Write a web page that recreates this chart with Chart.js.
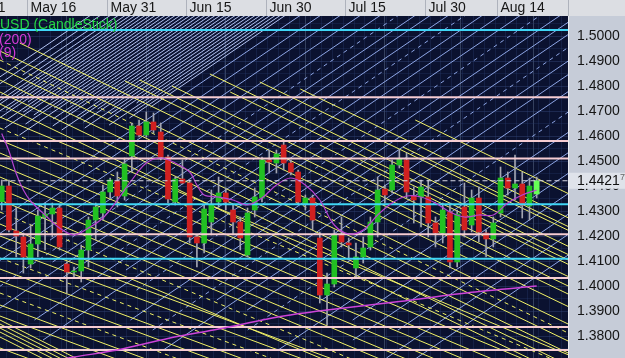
<!DOCTYPE html>
<html>
<head>
<meta charset="utf-8">
<script src="https://cdn.jsdelivr.net/npm/chart.js@4.4.0/dist/chart.umd.min.js"></script>
<style>
html, body { margin: 0; padding: 0; background: #0b1230; }
#wrap { width: 625px; height: 358px; position: relative; }
</style>
</head>
<body>
<div id="wrap"><canvas id="graphic"></canvas></div>
<script>
// trading days, EUR/USD daily, 2011
const days = ('May 10,May 11,May 12,May 13,May 16,May 17,May 18,May 19,May 20,May 23,May 24,May 25,May 26,May 27,May 30,May 31,' +
  'Jun 1,Jun 2,Jun 3,Jun 6,Jun 7,Jun 8,Jun 9,Jun 10,Jun 13,Jun 14,Jun 15,Jun 16,Jun 17,Jun 20,Jun 21,Jun 22,Jun 23,Jun 24,Jun 27,Jun 28,Jun 29,Jun 30,' +
  'Jul 1,Jul 4,Jul 5,Jul 6,Jul 7,Jul 8,Jul 11,Jul 12,Jul 13,Jul 14,Jul 15,Jul 18,Jul 19,Jul 20,Jul 21,Jul 22,Jul 25,Jul 26,Jul 27,Jul 28,Jul 29,' +
  'Aug 1,Aug 2,Aug 3,Aug 4,Aug 5,Aug 8,Aug 9,Aug 10,Aug 11,Aug 12,Aug 15,Aug 16,Aug 17,Aug 18,Aug 19,Aug 22').split(',');

const open = [1.4337,1.4400,1.4220,1.4196,1.4088,1.4168,1.4276,1.4288,1.4312,1.4088,1.4056,1.4060,1.4144,1.4264,1.4292,1.4376,
  1.4420,1.4360,1.4520,1.4640,1.4604,1.4656,1.4616,1.4516,1.4336,1.4428,1.4412,1.4196,1.4172,1.4256,1.4336,1.4372,1.4304,1.4256,1.4124,1.4304,1.4352,1.4504,
  1.4492,1.4564,1.4492,1.4456,1.4328,1.4352,1.4192,1.3964,1.4008,1.4204,1.4172,1.4072,1.4116,1.4156,1.4256,1.4388,1.4384,1.4484,1.4504,1.4360,1.4356,
  1.4356,1.4252,1.4212,1.4296,1.4096,1.4316,1.4244,1.4352,1.4212,1.4188,1.4292,1.4432,1.4392,1.4408,1.4320,1.4368];
const high = [1.4424,1.4424,1.4316,1.4212,1.4244,1.4304,1.4332,1.4332,1.4324,1.4096,1.4076,1.4164,1.4276,1.4332,1.4404,1.4432,
  1.4456,1.4512,1.4652,1.4664,1.4696,1.4692,1.4652,1.4524,1.4436,1.4504,1.4424,1.4204,1.4324,1.4384,1.4436,1.4392,1.4324,1.4276,1.4312,1.4392,1.4516,1.4544,
  1.4544,1.4576,1.4504,1.4464,1.4364,1.4364,1.4216,1.4052,1.4224,1.4276,1.4192,1.4172,1.4196,1.4276,1.4436,1.4404,1.4504,1.4544,1.4532,1.4396,1.4424,
  1.4424,1.4276,1.4332,1.4332,1.4304,1.4412,1.4384,1.4396,1.4224,1.4276,1.4476,1.4456,1.4524,1.4456,1.4432,1.4436];
const low = [1.4304,1.4216,1.4116,1.4052,1.4072,1.4116,1.4144,1.4196,1.4144,1.3972,1.4036,1.4016,1.4076,1.4184,1.4264,1.4352,
  1.4316,1.4344,1.4456,1.4596,1.4596,1.4612,1.4504,1.4332,1.4324,1.4408,1.4172,1.4076,1.4132,1.4204,1.4316,1.4304,1.4204,1.4144,1.4116,1.4276,1.4336,1.4452,
  1.4452,1.4464,1.4444,1.4324,1.4304,1.4224,1.3932,1.3844,1.3996,1.4156,1.4104,1.4036,1.4092,1.4144,1.4196,1.4332,1.4372,1.4472,1.4352,1.4252,1.4236,
  1.4196,1.4156,1.4172,1.4072,1.4076,1.4196,1.4216,1.4176,1.4116,1.4156,1.4276,1.4364,1.4344,1.4272,1.4264,1.4352];
const close = [1.4400,1.4224,1.4200,1.4116,1.4168,1.4280,1.4288,1.4312,1.4156,1.4056,1.4058,1.4144,1.4264,1.4316,1.4376,1.4424,
  1.4360,1.4488,1.4640,1.4604,1.4656,1.4624,1.4516,1.4348,1.4428,1.4412,1.4196,1.4172,1.4308,1.4324,1.4372,1.4336,1.4256,1.4192,1.4292,1.4356,1.4504,1.4496,
  1.4528,1.4492,1.4456,1.4336,1.4352,1.4264,1.3964,1.4008,1.4204,1.4176,1.4164,1.4116,1.4152,1.4256,1.4384,1.4364,1.4484,1.4508,1.4376,1.4344,1.4396,
  1.4252,1.4212,1.4304,1.4096,1.4288,1.4224,1.4352,1.4216,1.4188,1.4252,1.4432,1.4392,1.4408,1.4324,1.4400,1.4421];

// moving averages [day index, price]
const ma9 = [[0,1.4610],[1,1.4540],[2,1.4450],[3,1.4384],[4,1.4340],[6,1.4284],[8,1.4232],[10,1.4204],[12,1.4232],[14,1.4272],
  [16,1.4344],[18,1.4424],[20,1.4492],[22,1.4512],[24,1.4492],[26,1.4456],[27,1.4404],[28,1.4364],[30,1.4356],[32,1.4344],
  [34,1.4324],[36,1.4352],[38,1.4404],[40,1.4432],[42,1.4404],[44,1.4344],[46,1.4244],[48,1.4208],[50,1.4224],[52,1.4284],
  [54,1.4332],[56,1.4360],[58,1.4356],[60,1.4332],[62,1.4296],[64,1.4276],[66,1.4284],[68,1.4284],[70,1.4332],[72,1.4364],[74,1.4384]];
const ma200 = [[0,1.3665],[5,1.3690],[10,1.3716],[16,1.3744],[23,1.3790],[30,1.3828],[39,1.3880],[45,1.3904],[55,1.3938],[65,1.3975],[74,1.4000]];

const cyanLevels = [1.5024, 1.4327, 1.4109];
const pinkLevels = [1.4755, 1.4580, 1.4510, 1.4207, 1.4032, 1.3836, 1.3744];
const lastPrice = 1.4421;

// trendlines [startDay, startPrice, endDay, endPrice]
const yellowLines = [
  [2.5,1.4972,78.35,1.3918],[-0.25,1.4940,78.35,1.3848],[-0.25,1.4872,78.35,1.3780],[-0.25,1.4824,78.35,1.3732],
  [-0.25,1.4776,78.35,1.3684],[-0.25,1.4728,78.35,1.3636],[-0.25,1.4676,78.35,1.3725],[-0.25,1.4584,78.35,1.3633],
  [-0.25,1.4532,78.35,1.3581],[-0.25,1.4484,78.35,1.3533],[-0.25,1.4436,78.35,1.3485],[-0.25,1.4388,78.35,1.3437],
  [-0.25,1.4344,78.35,1.3393],[-0.25,1.4248,78.35,1.3297],[-0.25,1.4200,78.35,1.3359],[-0.25,1.4156,78.35,1.3315],
  [-0.25,1.4068,78.35,1.3227],[-0.25,1.4020,78.35,1.3179],[-0.25,1.3924,78.35,1.3083],[-0.25,1.3880,78.35,1.3039],
  [-0.25,1.3864,78.35,1.2724],[-0.25,1.3848,78.35,1.2708],[-0.25,1.3832,78.35,1.2692],[-0.25,1.3816,78.35,1.2676],
  [-0.25,1.3796,78.35,1.2656],[-0.25,1.3752,78.35,1.2912],
  [17.05,1.4820,78.35,1.3968],[19.1,1.4824,78.35,1.4000],[23.55,1.4800,78.35,1.4038],[28.8,1.4848,78.35,1.4159],
  [31.6,1.4776,78.35,1.4126],[35.7,1.4816,78.35,1.4223],[41.3,1.4788,78.35,1.4273],[44.0,1.4564,78.35,1.4087],
  [49.6,1.4504,78.35,1.4104],[55.5,1.4556,78.35,1.4238],[57.2,1.4664,78.35,1.4370]
];
const yellowDashed = [
  [-0.25,1.4904,78.35,1.3812],[-0.25,1.4632,78.35,1.3681],[-0.25,1.4296,78.35,1.3345],
  [-0.25,1.4112,78.35,1.3271],[-0.25,1.3972,78.35,1.3131]
];
const blueDense = [
  [-0.88,1.4824,14.17,1.512],[-1.53,1.4784,15.55,1.512],[2.9,1.4844,16.93,1.512],[-0.06,1.4764,18.04,1.512],
  [-1.13,1.4724,19.0,1.512],[-3.08,1.4672,19.7,1.512],[1.68,1.4752,20.39,1.512],[-3.12,1.4644,21.08,1.512],
  [0.62,1.4704,21.77,1.512],[-3.16,1.4616,22.46,1.512],[3.63,1.4736,23.15,1.512],[0.67,1.4664,23.85,1.512],
  [2.98,1.4696,24.54,1.512],[0.42,1.4632,25.23,1.512],[6.81,1.4744,25.92,1.512],[4.44,1.4684,26.61,1.512],
  [3.3,1.4648,27.3,1.512],[7.25,1.4712,27.99,1.512],[2.46,1.4604,28.69,1.512],[9.45,1.4728,29.38,1.512],
  [7.09,1.4668,30.07,1.512],[9.0,1.4692,30.76,1.512],[7.05,1.4640,31.45,1.512],[12.82,1.4740,32.14,1.512],
  [10.27,1.4676,32.84,1.512],[8.31,1.4624,33.53,1.512],[13.27,1.4708,34.22,1.512],[11.32,1.4656,34.91,1.512],
  [15.27,1.4720,35.6,1.512],[11.48,1.4632,36.29,1.512],[15.02,1.4688,36.98,1.512],[14.5,1.4664,37.68,1.512],
  [18.65,1.4732,38.37,1.512],[14.86,1.4644,39.06,1.512],[18.4,1.4700,39.75,1.512],[17.66,1.4672,40.44,1.512],
  [20.59,1.4716,41.13,1.512]
];
const blueLines = [
  [-16.6,1.3944,43.2,1.512],[-3.62,1.4144,46.0,1.512],[-17.15,1.3824,48.74,1.512],[-2.17,1.4064,51.51,1.512],
  [6.69,1.4184,54.27,1.512],[7.04,1.4096,59.1,1.512],[-4.7,1.3824,61.19,1.512],[7.96,1.4024,63.68,1.512],
  [4.53,1.3864,68.38,1.512],[17.19,1.4064,70.87,1.512],[5.72,1.3784,73.64,1.512],[27.52,1.4104,79.17,1.512],
  [17.81,1.3864,81.66,1.512],[28.43,1.4024,84.15,1.512],[29.75,1.3944,89.54,1.512],[22.36,1.3744,92.31,1.512],
  [33.95,1.3904,95.77,1.512],[44.28,1.3944,104.07,1.512],[38.25,1.3744,108.2,1.512],[48.55,1.3864,112.4,1.512],
  [48.58,1.3784,116.5,1.512],[54.81,1.3824,120.7,1.512],[53.22,1.3712,124.8,1.512],[57.0,1.3704,129.0,1.512]
];
const blueDashed = [
  [-3.03,1.3944,56.76,1.512],[16.41,1.4144,66.03,1.512],[18.65,1.3984,76.4,1.512],
  [20.89,1.3824,86.78,1.512],[34.03,1.3824,99.92,1.512]
];

// top date bar: separator positions (day index) and their labels
const tickAt = [-5.2, 3.5, 14.5, 25.5, 36.5, 47.5, 58.5, 68.5];
const tickText = ['May 1', 'May 16', 'May 31', 'Jun 15', 'Jun 30', 'Jul 15', 'Jul 30', 'Aug 14'];

const FONT = '"Liberation Sans", Arial, sans-serif';

const seg = (l, color, dash, order) => ({
  type: 'line',
  data: [{x: l[0], y: l[1]}, {x: l[2], y: l[3]}],
  borderColor: color, borderWidth: 1, borderDash: dash || [],
  pointRadius: 0, order: order
});
const level = (p, color, dash, order) => seg([-1, p, 80, p], color, dash, order);

const candleColors = close.map((c, i) => i === close.length - 1 ? '#66ff55' : (c >= open[i] ? '#22c022' : '#d02020'));

const datasets = [];
blueLines.forEach(l => datasets.push(seg(l, '#8ea6e6', null, 60)));
blueDashed.forEach(l => datasets.push(seg(l, '#8ea6e6', [4, 4], 60)));
blueDense.forEach(l => datasets.push(seg(l, '#b4c4f2', null, 59)));
yellowLines.forEach(l => datasets.push(seg(l, '#f2f266', null, 50)));
yellowDashed.forEach(l => datasets.push(seg(l, '#f2f266', [4, 4], 50)));
datasets.push({
  type: 'bar', data: high.map((h, i) => ({x: i, y: [low[i], h]})),
  backgroundColor: '#a2a5b2', barThickness: 1, grouped: false, order: 41
});
datasets.push({
  type: 'bar', data: open.map((o, i) => ({x: i, y: [o, close[i]]})),
  backgroundColor: candleColors, barThickness: 5, minBarLength: 1, grouped: false, order: 40
});
cyanLevels.forEach(p => { const d = level(p, '#3fd6f6', null, 30); d.borderWidth = 2; datasets.push(d); });
pinkLevels.forEach(p => { const d = level(p, '#f6ccd2', null, 30); d.borderWidth = 2; datasets.push(d); });
datasets.push({
  type: 'line', data: ma200.map(m => ({x: m[0], y: m[1]})),
  borderColor: '#cc44d8', borderWidth: 1.5, pointRadius: 0, tension: 0.3, order: 20
});
datasets.push({
  type: 'line', data: ma9.map(m => ({x: m[0], y: m[1]})),
  borderColor: '#b844d2', borderWidth: 1.2, pointRadius: 0, tension: 0.35, order: 20
});
datasets.push(level(lastPrice, '#d8d8e4', [5, 3], 10));

const frame = {
  id: 'frame',
  beforeDraw(chart) {
    const c = chart.ctx, a = chart.chartArea;
    c.save();
    c.fillStyle = '#0b1230';
    c.fillRect(0, 0, chart.width, chart.height);
    c.fillStyle = '#c6ccd8';
    c.fillRect(a.right, a.top, chart.width - a.right, chart.height - a.top);
    c.restore();
  },
  afterDraw(chart) {
    const c = chart.ctx, a = chart.chartArea, xs = chart.scales.xs, y = chart.scales.y;
    c.save();
    // date bar
    c.fillStyle = '#dcdee3';
    c.fillRect(0, 0, chart.width, a.top);
    c.beginPath(); c.rect(0, 0, a.right, a.top); c.clip();
    c.font = '14px ' + FONT;
    c.textBaseline = 'middle';
    tickAt.forEach((v, k) => {
      const px = Math.round(xs.getPixelForValue(v)) + 0.5;
      c.strokeStyle = '#aeb2bc';
      c.beginPath(); c.moveTo(px, 0); c.lineTo(px, a.top); c.stroke();
      c.fillStyle = '#161616';
      c.fillText(tickText[k], px + 3, 8.5);
    });
    c.restore();
    c.save();
    c.strokeStyle = '#aeb2bc';
    c.beginPath(); c.moveTo(a.right + 0.5, 0); c.lineTo(a.right + 0.5, a.top); c.stroke();
    c.strokeStyle = '#e9ebf0';
    c.beginPath(); c.moveTo(a.right + 0.5, a.top); c.lineTo(a.right + 0.5, chart.height); c.stroke();
    // indicator captions
    c.beginPath(); c.rect(a.left, a.top, a.right - a.left, a.bottom - a.top); c.clip();
    c.font = '14px ' + FONT;
    c.textBaseline = 'middle';
    c.fillStyle = '#25d845';
    c.fillText('USD (CandleStick)', 0, 25);
    c.fillStyle = '#d23ad6';
    c.fillText('(200)', -1, 40);
    c.fillText('(9)', -1, 53);
    c.restore();
    // last price box
    c.save();
    const py = y.getPixelForValue(lastPrice);
    c.fillStyle = '#dfe3ea';
    c.fillRect(a.right + 1, py - 8, chart.width - a.right, 16);
    c.font = '14px ' + FONT;
    c.textBaseline = 'middle';
    c.fillStyle = '#111';
    c.fillText(lastPrice.toFixed(4), a.right + 9, py + 0.5);
    c.font = '9px ' + FONT;
    c.fillStyle = '#666';
    c.fillText('7', a.right + 52, py - 3);
    c.restore();
  }
};

new Chart(document.getElementById('graphic'), {
  type: 'bar',
  data: { datasets: datasets },
  options: {
    responsive: true,
    maintainAspectRatio: false,
    animation: false,
    devicePixelRatio: 1,
    layout: { padding: { top: 16, left: 0, right: 0, bottom: 0 } },
    plugins: { legend: { display: false }, tooltip: { enabled: false } },
    scales: {
      x: {
        type: 'linear', min: -0.235, max: 78.33, offset: false,
        ticks: { display: false, stepSize: 1.5, autoSkip: false },
        grid: { color: 'rgba(40,60,110,0.35)', drawTicks: false },
        border: { display: false },
        afterFit: s => { s.height = 0; s.paddingLeft = 0; s.paddingRight = 0; }
      },
      xs: {
        type: 'linear', min: -0.235, max: 78.33, offset: false,
        ticks: { display: false },
        grid: { color: '#34405e', drawTicks: false },
        border: { display: false },
        afterBuildTicks: s => { s.ticks = tickAt.map(v => ({value: v})); },
        afterFit: s => { s.height = 0; s.paddingLeft = 0; s.paddingRight = 0; }
      },
      y: {
        position: 'right', min: 1.3712, max: 1.508,
        ticks: {
          stepSize: 0.005, autoSkip: false, includeBounds: false, padding: 9,
          color: '#151515', font: { family: FONT, size: 14 },
          callback: v => Math.abs(v * 100 - Math.round(v * 100)) < 1e-6 ? v.toFixed(4) : ''
        },
        grid: {
          drawTicks: false,
          color: ctx => Math.abs(ctx.tick.value * 100 - Math.round(ctx.tick.value * 100)) < 1e-6 ? 'rgba(50,70,120,0.45)' : 'rgba(40,60,110,0.3)'
        },
        border: { display: false },
        afterFit: s => { s.width = 57; s.paddingTop = 0; s.paddingBottom = 0; }
      }
    }
  },
  plugins: [frame]
});
</script>
</body>
</html>
